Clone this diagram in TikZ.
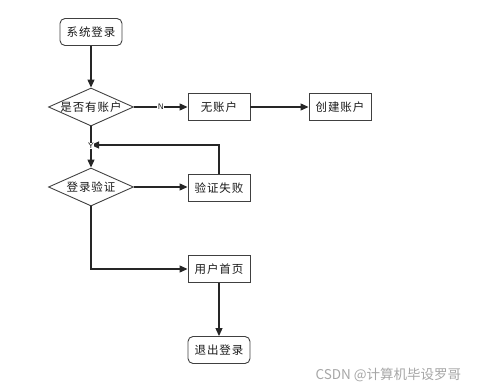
\documentclass[tikz,border=0pt]{standalone}
\usepackage{fontspec}
\setmainfont{Noto Sans CJK SC}
\newfontfamily\spaced[LetterSpace=8]{Noto Sans CJK SC}
\usetikzlibrary{shapes.geometric,arrows.meta}
\begin{document}
\begin{tikzpicture}[x=1pt,y=-1pt,
  every node/.style={font=\spaced\fontsize{11.5}{13}\selectfont, text=black!90},
  proc/.style={draw=black!75, line width=0.9pt, minimum width=62pt, minimum height=27pt, inner sep=0pt},
  term/.style={proc, rounded corners=5pt},
  dec/.style={draw=black!75, line width=0.9pt, diamond, aspect=2.24, minimum width=85pt, minimum height=38pt, inner sep=0pt},
  conn/.style={draw=black!85, line width=1.1pt, -{Triangle[length=8pt,width=7pt]}},
  plain/.style={draw=black!85, line width=1.1pt},
  lbl/.style={font=\sffamily\fontsize{8}{9}\selectfont, fill=white, inner sep=0.6pt}]
\useasboundingbox (0,0) rectangle (499,391);
\node[term] (start) at (91,32) {系统登录};
\node[dec, label={center:是否有账户}] (has) at (91,107) {};
\node[proc] (no) at (219,107) {无账户};
\node[proc] (create) at (340,107) {创建账户};
\coordinate (j) at (91,145);
\node[dec, label={center:登录验证}] (verify) at (91,187) {};
\node[proc] (fail) at (219,188) {验证失败};
\node[proc] (home) at (219,269) {用户首页};
\node[term] (quit) at (219,350) {退出登录};
\node[anchor=west, text=black!35, font=\fontsize{13.5}{15}\selectfont] (wm) at (312,375) {CSDN @计算机毕设罗哥};

\draw[conn] (start) -- (has);
\draw[conn] (has) -- node[lbl] {N} (no);
\draw[conn] (no) -- (create);
\draw[plain] (has.south) -- (j);
\draw[conn] (fail.north) |- (j);
\draw[conn] (j) -- (verify.north);
\node[lbl] (ylbl) at (91,146) {Y};
\draw[conn] (verify.east) -- (fail.west |- verify.east);
\draw[conn] (verify.south) |- (home.west);
\draw[conn] (home) -- (quit);
\end{tikzpicture}
\end{document}
